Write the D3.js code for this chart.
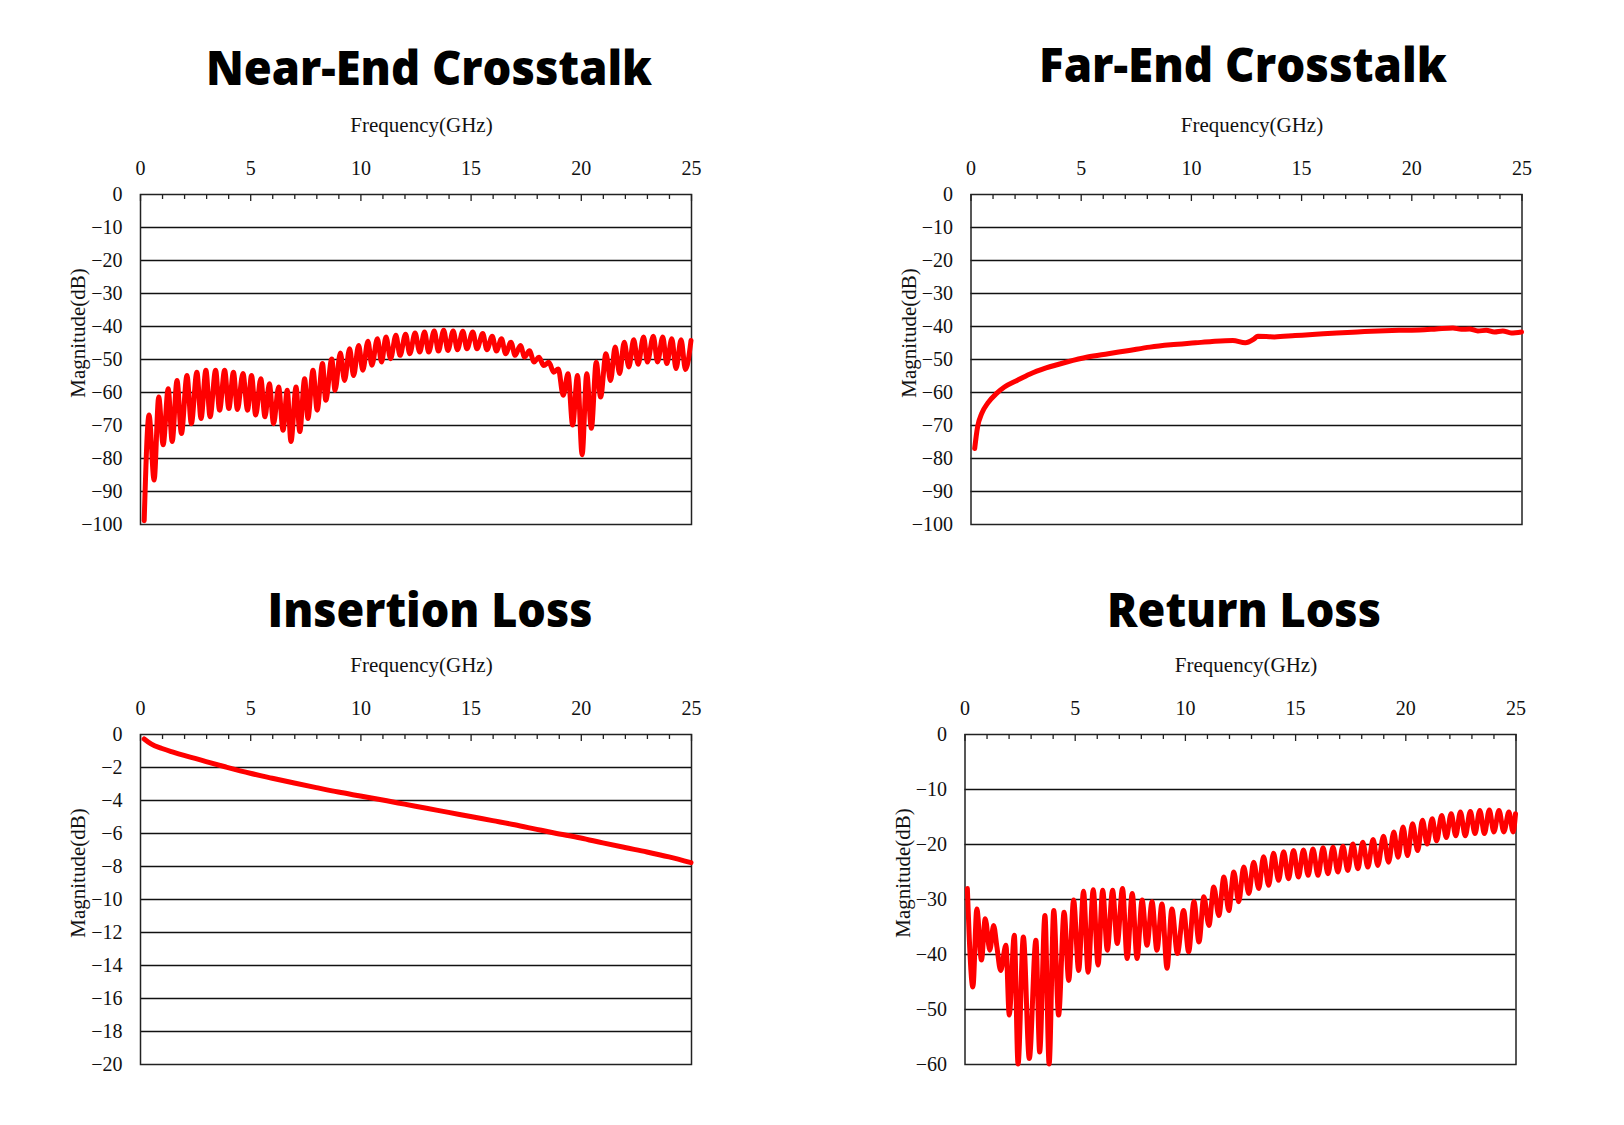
<!DOCTYPE html>
<html>
<head>
<meta charset="utf-8">
<script src="https://cdn.jsdelivr.net/npm/d3@7"></script>
<style>
  html, body { margin: 0; padding: 0; background: #fff; }
  svg { display: block; }
</style>
</head>
<body>
<div id="chart"></div>
<script>
// ---------------- data (frequency GHz, magnitude dB) ----------------
const xTickLabels = [0, 5, 10, 15, 20, 25];
const xMinorTicks = d3.range(0, 26, 1);

const titles = ["Near-End Crosstalk", "Far-End Crosstalk", "Insertion Loss", "Return Loss"];
const xAxisTitle = "Frequency(GHz)";
const yAxisTitle = "Magnitude(dB)";

const yTicksNext = [0, -10, -20, -30, -40, -50, -60, -70, -80, -90, -100];
const yTicksFext = [0, -10, -20, -30, -40, -50, -60, -70, -80, -90, -100];
const yTicksIL = [0, -2, -4, -6, -8, -10, -12, -14, -16, -18, -20];
const yTicksRL = [0, -10, -20, -30, -40, -50, -60];

const nextFreq = [0.19,0.41,0.64,0.85,1.05,1.28,1.46,1.68,1.88,2.13,2.33,2.58,2.77,2.99,3.18,3.43,3.61,3.84,4.03,4.24,4.42,4.67,4.88,5.06,5.25,5.48,5.67,5.87,6.06,6.29,6.49,6.68,6.85,7.08,7.25,7.47,7.62,7.85,8.04,8.28,8.43,8.7,8.85,9.09,9.28,9.51,9.69,9.92,10.11,10.34,10.52,10.77,10.96,11.16,11.37,11.61,11.8,12.05,12.24,12.48,12.69,12.91,13.1,13.35,13.54,13.78,13.97,14.21,14.4,14.65,14.83,15.1,15.29,15.55,15.74,15.98,16.17,16.4,16.59,16.83,17.02,17.26,17.45,17.67,17.88,18.1,18.32,18.55,18.77,18.98,19.2,19.42,19.63,19.85,20.06,20.27,20.48,20.7,20.9,21.14,21.35,21.56,21.76,21.97,22.18,22.4,22.6,22.85,23.02,23.29,23.48,23.72,23.9,24.13,24.32,24.55,24.75,25];
const nextDb = [-99,-67,-86.7,-61.5,-76,-59,-75,-56.5,-72.6,-55,-69.6,-54,-68,-53.4,-67.5,-53.4,-65.5,-53.4,-65,-54,-65.3,-54.4,-65.5,-55,-67,-56,-67.5,-57.5,-69.6,-58.5,-71.6,-59.5,-75,-58.5,-72,-56,-68,-53.4,-65.5,-51.4,-62.5,-50,-59.5,-48.2,-56.5,-46.9,-55,-45.9,-53.4,-44.6,-51.9,-43.9,-50.9,-43.3,-49.9,-42.8,-48.9,-42.5,-48.4,-42.1,-47.9,-41.8,-47.9,-41.5,-47.6,-41.3,-47.4,-41.5,-47.2,-41.6,-46.9,-41.8,-46.9,-42.3,-47.2,-43.1,-47.6,-43.9,-48.4,-44.9,-48.9,-45.9,-49.4,-47.5,-50.9,-49.5,-52,-51,-54,-53,-61,-54.5,-70,-55,-79,-54.5,-71,-51,-61.5,-48.4,-56.5,-46.4,-54.4,-44.9,-52.4,-44.2,-51.6,-43.3,-50.9,-43.1,-50.9,-43.3,-51.4,-43.9,-52.9,-44.2,-53.2,-44.4];

const fextFreq = [0.19,0.32,0.51,0.79,1.17,1.54,2.11,2.68,3.43,4.37,5.31,6.25,7.2,8.14,9.08,10.21,10.96,11.9,12.47,12.85,13.04,13.79,14.73,15.67,16.62,17.56,18.5,19.44,20.38,21.14,21.89,22.27,22.64,23.02,23.4,23.77,24.15,24.53,25];
const fextDb = [-77.1,-70.6,-66.5,-63.3,-60.5,-58.5,-56.5,-54.6,-52.7,-50.9,-49.4,-48.4,-47.4,-46.4,-45.7,-45.1,-44.7,-44.4,-45.1,-44.0,-43.1,-43.3,-42.9,-42.5,-42.1,-41.8,-41.5,-41.3,-41.2,-40.9,-40.6,-41,-40.9,-41.5,-41.3,-41.8,-41.5,-42.1,-41.8];

const ilFreq = [0.19,0.5,1,1.5,2,2.5,3,3.9,5,6,7,8,9,10,11.2,12,13,14,15,16,17,18,18.8,20,21,22,23,24,25];
const ilDb = [-0.3,-0.6,-0.88,-1.1,-1.3,-1.48,-1.67,-2.0,-2.38,-2.68,-2.97,-3.25,-3.52,-3.76,-4.05,-4.25,-4.5,-4.75,-5.0,-5.25,-5.5,-5.78,-6.0,-6.3,-6.6,-6.88,-7.15,-7.45,-7.8];

const rlFreq = [0.13,0.38,0.56,0.77,0.94,1.15,1.32,1.47,1.64,1.88,2.03,2.26,2.43,2.67,2.94,3.24,3.41,3.65,3.84,4.05,4.27,4.52,4.73,4.95,5.18,5.4,5.61,5.84,6.06,6.27,6.48,6.72,6.93,7.17,7.38,7.61,7.83,8.06,8.28,8.51,8.73,8.96,9.19,9.41,9.66,9.94,10.17,10.41,10.64,10.86,11.09,11.31,11.54,11.77,11.99,12.22,12.44,12.67,12.9,13.12,13.35,13.57,13.8,14.02,14.25,14.48,14.7,14.93,15.15,15.38,15.59,15.81,16.04,16.27,16.49,16.72,16.94,17.17,17.39,17.62,17.85,18.07,18.3,18.54,18.75,19.01,19.24,19.48,19.67,19.9,20.1,20.33,20.56,20.78,20.99,21.22,21.42,21.65,21.86,22.08,22.29,22.5,22.72,22.95,23.16,23.38,23.59,23.81,24.02,24.25,24.47,24.7,24.89,25];
const rlDb = [-28.1,-46,-31.8,-41.1,-33.6,-39.3,-34.8,-38.7,-43,-38.4,-51.1,-36.6,-60,-36.9,-59,-37.5,-57.8,-33,-60,-32.1,-51.1,-32.4,-44.8,-30.2,-43,-28.6,-43.3,-28.3,-42,-28.4,-39.3,-28.4,-38.1,-28.1,-40.8,-29,-40.8,-30.2,-38.4,-30.5,-39.3,-30.9,-42.6,-31.8,-39.9,-32.1,-39.6,-30.5,-37.8,-29.6,-34.8,-27.8,-33,-26,-32.1,-25.1,-30.5,-24.2,-29,-23.3,-28.1,-22.3,-27.5,-21.7,-26.6,-21.4,-26.3,-21.2,-26,-21.1,-25.7,-20.9,-25.7,-20.7,-25.4,-20.6,-25.1,-20.4,-24.8,-20,-24.5,-19.7,-24.2,-19.2,-23.9,-18.6,-23.3,-17.8,-22.4,-16.9,-22.1,-16.3,-21.2,-15.7,-20,-15.4,-19.4,-14.8,-18.8,-14.5,-18.5,-14.2,-18.5,-14.1,-18.1,-13.9,-18.1,-13.8,-17.8,-13.9,-17.8,-14.2,-17.8,-14.5];

// ---------------- layout ----------------
const W = 1624, H = 1125;
const PW = 551, PH = 330;

const panels = [
  { title: titles[0], freq: nextFreq, db: nextDb, yTicks: yTicksNext, left: 140, top: 194, tx: 429, ty: 85, tw: 446 },
  { title: titles[1], freq: fextFreq, db: fextDb, yTicks: yTicksFext, left: 970.5, top: 194, tx: 1243, ty: 82, tw: 408 },
  { title: titles[2], freq: ilFreq, db: ilDb, yTicks: yTicksIL, left: 140, top: 734, tx: 430, ty: 627, tw: 325 },
  { title: titles[3], freq: rlFreq, db: rlDb, yTicks: yTicksRL, left: 964.5, top: 734, tx: 1244, ty: 627, tw: 274 }
];

const svg = d3.select("#chart").append("svg")
  .attr("width", W).attr("height", H)
  .attr("viewBox", `0 0 ${W} ${H}`);

svg.append("rect").attr("width", W).attr("height", H).attr("fill", "#fff");

const serif = "'Liberation Serif', 'Times New Roman', serif";
const fmt = v => (v < 0 ? "\u2212" + Math.abs(v) : String(v));

panels.forEach(p => {
  const g = svg.append("g").attr("transform", `translate(${p.left},${p.top})`);
  const x = d3.scaleLinear().domain([0, 25]).range([0, PW]);
  const yMin = d3.min(p.yTicks), yMax = d3.max(p.yTicks);
  const y = d3.scaleLinear().domain([yMin, yMax]).range([PH, 0]);

  // title
  svg.append("text")
    .attr("x", p.tx).attr("y", p.ty)
    .attr("text-anchor", "middle")
    .attr("font-family", "'Open Sans', 'Noto Sans', sans-serif")
    .attr("font-weight", 800)
    .attr("font-size", 47)
    .attr("textLength", p.tw)
    .attr("lengthAdjust", "spacingAndGlyphs")
    .attr("fill", "#000")
    .text(p.title);

  // gridlines
  g.append("g").selectAll("line")
    .data(p.yTicks.filter(v => v !== yMin && v !== yMax))
    .join("line")
    .attr("x1", 0).attr("x2", PW)
    .attr("y1", d => Math.round(y(d)) + 0.5).attr("y2", d => Math.round(y(d)) + 0.5)
    .attr("stroke", "#111").attr("stroke-width", 1.3);

  // frame
  g.append("rect")
    .attr("x", 0.5).attr("y", 0.5).attr("width", PW).attr("height", PH)
    .attr("fill", "none").attr("stroke", "#222").attr("stroke-width", 1.5);

  // top axis: minor ticks
  const minorAxis = d3.axisTop(x).tickValues(xMinorTicks.filter(v => v % 5 !== 0)).tickSize(-5).tickFormat("");
  const gMinor = g.append("g").call(minorAxis);
  gMinor.select(".domain").remove();
  gMinor.selectAll("line").attr("stroke", "#222").attr("stroke-width", 1.3);

  // top axis: major ticks + labels
  const majorAxis = d3.axisTop(x).tickValues(xTickLabels).tickSize(-7).tickPadding(19).tickFormat(d3.format("d"));
  const gMajor = g.append("g").call(majorAxis);
  gMajor.select(".domain").remove();
  gMajor.selectAll("line").attr("stroke", "#222").attr("stroke-width", 1.3);
  gMajor.selectAll("text")
    .attr("font-family", serif).attr("font-size", 20).attr("fill", "#111");

  // left axis labels
  const yAxis = d3.axisLeft(y).tickValues(p.yTicks).tickSize(0).tickPadding(17.5).tickFormat(fmt);
  const gY = g.append("g").call(yAxis);
  gY.select(".domain").remove();
  gY.selectAll("text")
    .attr("font-family", serif).attr("font-size", 20).attr("fill", "#111");

  // axis titles
  g.append("text")
    .attr("x", PW / 2 + 6).attr("y", -69)
    .attr("text-anchor", "middle")
    .attr("dominant-baseline", "central")
    .attr("font-family", serif).attr("font-size", 21).attr("fill", "#111")
    .text(xAxisTitle);

  g.append("text")
    .attr("transform", `translate(-62,139) rotate(-90)`)
    .attr("text-anchor", "middle")
    .attr("dominant-baseline", "central")
    .attr("font-family", serif).attr("font-size", 21).attr("fill", "#111")
    .text(yAxisTitle);

  // data line
  const pts = p.freq.map((f, i) => [f, p.db[i]]);
  const line = d3.line()
    .x(d => x(d[0]))
    .y(d => y(d[1]))
    .curve(d3.curveMonotoneX);
  g.append("path")
    .datum(pts)
    .attr("d", line)
    .attr("fill", "none")
    .attr("stroke", "#ff0000")
    .attr("stroke-width", 5)
    .attr("stroke-linejoin", "round")
    .attr("stroke-linecap", "round");
});
</script>
</body>
</html>
